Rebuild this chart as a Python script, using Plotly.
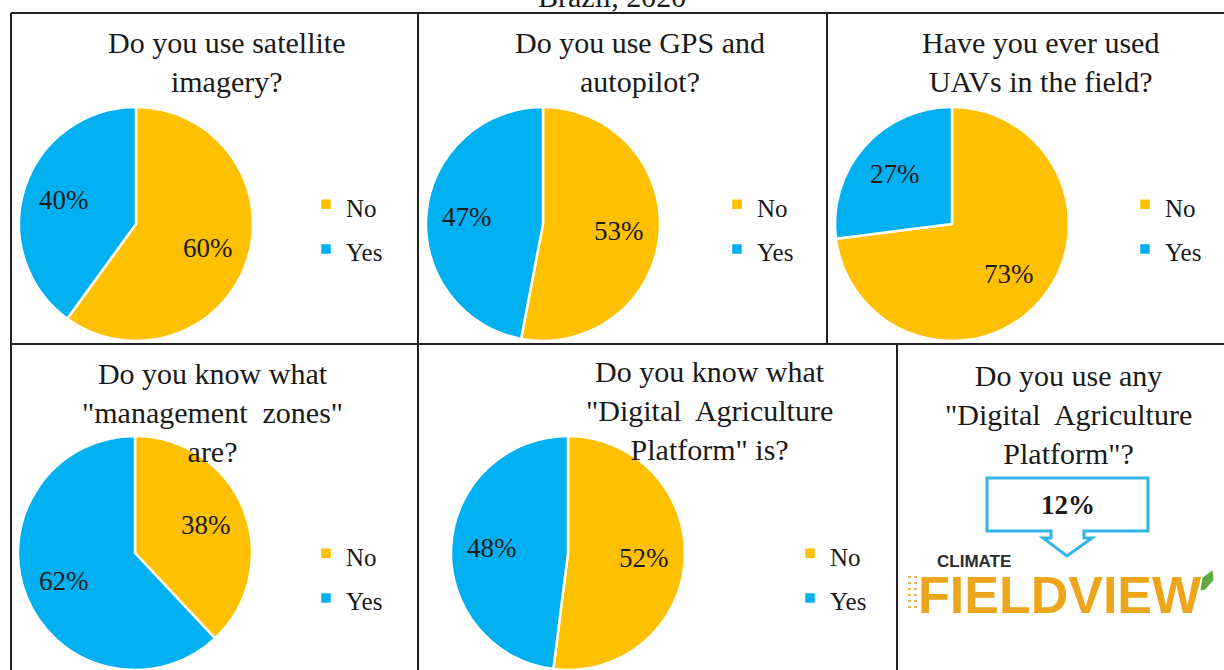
import math
import plotly.graph_objects as go

W, H = 1224, 670

# ---- data -------------------------------------------------------------
answers = ["No", "Yes"]
questions = [
    "Do you use satellite<br>imagery?",
    "Do you use GPS and<br>autopilot?",
    "Have you ever used<br>UAVs in the field?",
    "Do you know what<br>\"management\u00a0 zones\"<br>are?",
    "Do you know what<br>\"Digital\u00a0 Agriculture<br>Platform\" is?",
]
no_pct = [60, 53, 73, 38, 52]
yes_pct = [40, 47, 27, 62, 48]
platform_question = "Do you use any<br>\"Digital\u00a0 Agriculture<br>Platform\"?"
platform_pct = 12
subtitle = "Brazil, 2020"

# ---- styling / layout -------------------------------------------------
SERIF = "Liberation Serif, Times New Roman, serif"
SANS = "Liberation Sans, Arial, sans-serif"
YELLOW = "#FFC000"
BLUE = "#00B0F0"
INK = "#1a1a1a"

# pie centres (px) and radius, title centres, legend anchors
pie_centres = [(136, 224), (543, 224), (952, 224), (135, 553), (568, 553)]
R = 117
LABEL_RADIUS = 0.65          # slice labels sit at this fraction of the radius
title_pos = [(226, 62), (640, 62), (1040, 62), (212, 412), (709, 411)]
legend_pos = [(306, 227), (717, 227), (1125, 227), (306, 576), (790, 576)]


def px_x(x):
    return x / W


def px_y(y):
    return 1 - y / H


fig = go.Figure()
annotations = []

legend_names = ["legend"] + [f"legend{i}" for i in range(2, 6)]

for i, (cx, cy) in enumerate(pie_centres):
    vals = [no_pct[i], yes_pct[i]]
    fig.add_trace(go.Pie(
        labels=[f"<span style='font-size:25px'>{a}</span>" for a in answers],
        values=vals,
        textinfo="none",
        sort=False,
        direction="clockwise",
        rotation=0,
        marker=dict(colors=[YELLOW, BLUE], line=dict(color="white", width=2.5)),
        domain=dict(x=[px_x(cx - R), px_x(cx + R)], y=[px_y(cy + R), px_y(cy - R)]),
        legend=legend_names[i],
        legendgroup=f"q{i}",
        hovertemplate="%{value}%<extra></extra>",
    ))

    # percentage labels placed along each slice's bisector
    total = sum(vals)
    start = 0.0
    for v in vals:
        mid = (start + v / 2) / total * 2 * math.pi
        start += v
        lx = cx + math.sin(mid) * LABEL_RADIUS * R
        ly = cy - math.cos(mid) * LABEL_RADIUS * R
        annotations.append(dict(
            text=f"{v}%", x=px_x(lx), y=px_y(ly), xref="paper", yref="paper",
            xanchor="center", yanchor="middle", showarrow=False,
            font=dict(family=SERIF, size=27, color=INK),
        ))

layout_legends = {}
for i, (lx, ly) in enumerate(legend_pos):
    layout_legends[legend_names[i]] = dict(
        x=px_x(lx), y=px_y(ly), xanchor="left", yanchor="middle",
        font=dict(family=SERIF, size=32, color=INK),
        bgcolor="rgba(0,0,0,0)", itemwidth=30, traceorder="normal",
    )

for q, (tx, ty) in zip(questions + [platform_question], title_pos + [(1068, 414)]):
    annotations.append(dict(
        text=q, x=px_x(tx), y=px_y(ty), xref="paper", yref="paper",
        xanchor="center", yanchor="middle", showarrow=False,
        font=dict(family=SERIF, size=30, color=INK),
    ))

# partially visible header line
annotations.append(dict(
    text=subtitle, x=0.5, y=1, xref="paper", yref="paper",
    xanchor="center", yanchor="middle", yshift=4, showarrow=False,
    font=dict(family=SERIF, size=30, color=INK),
))

# FieldView call-out value and logo
annotations.append(dict(
    text=f"<b>{platform_pct}%</b>", x=px_x(1068), y=px_y(505), xref="paper", yref="paper",
    xanchor="center", yanchor="middle", showarrow=False,
    font=dict(family=SERIF, size=27, color=INK),
))
annotations.append(dict(
    text="<b>CLIMATE</b>", x=px_x(935), y=px_y(561), xref="paper", yref="paper",
    xanchor="left", yanchor="middle", showarrow=False,
    font=dict(family=SANS, size=17, color="#2b2b2b"),
))
annotations.append(dict(
    text="<b>FIELDVIEW</b>", x=px_x(1060), y=px_y(595), xref="paper", yref="paper",
    xanchor="center", yanchor="middle", showarrow=False,
    font=dict(family=SANS, size=52, color="#EDA61C"),
))

# table grid
LINE = dict(color="#222222", width=2)
grid = [
    (11, 13, 1224, 13),   # top
    (11, 13, 11, 670),    # left
    (11, 344, 1224, 344), # middle row divider
    (418, 13, 418, 670),
    (827, 13, 827, 344),
    (897, 344, 897, 670),
]
shapes = [dict(type="line", xref="paper", yref="paper",
               x0=px_x(a), y0=px_y(b), x1=px_x(c), y1=px_y(d), line=LINE)
          for a, b, c, d in grid]

# call-out box with downward arrow
callout = [(987, 478), (1148, 478), (1148, 531), (1084, 531), (1084, 538), (1092, 538),
           (1067, 556), (1043, 538), (1051, 538), (1051, 531), (987, 531)]
path = "M " + " L ".join(f"{px_x(x)},{px_y(y)}" for x, y in callout) + " Z"
shapes.append(dict(type="path", xref="paper", yref="paper", path=path,
                   line=dict(color="#33B5E5", width=3), fillcolor="rgba(0,0,0,0)"))

# striped marks beside the logo's F
for k in range(6):
    y = 577 + k * 6
    shapes.append(dict(type="line", xref="paper", yref="paper",
                       x0=px_x(908), y0=px_y(y), x1=px_x(918), y1=px_y(y),
                       line=dict(color="#E9B75A", width=2, dash="dot")))

# leaf on the logo
leaf = [(1201, 590), (1203, 578), (1212, 571), (1213, 580), (1205, 589)]
shapes.append(dict(type="path", xref="paper", yref="paper",
                   path="M " + " L ".join(f"{px_x(x)},{px_y(y)}" for x, y in leaf) + " Z",
                   line=dict(color="#5BAA3C", width=1), fillcolor="#5BAA3C"))

fig.update_layout(
    width=W, height=H,
    margin=dict(l=0, r=0, t=0, b=0),
    paper_bgcolor="white", plot_bgcolor="white",
    annotations=annotations, shapes=shapes,
    **layout_legends,
)

fig.write_html("out.html")
